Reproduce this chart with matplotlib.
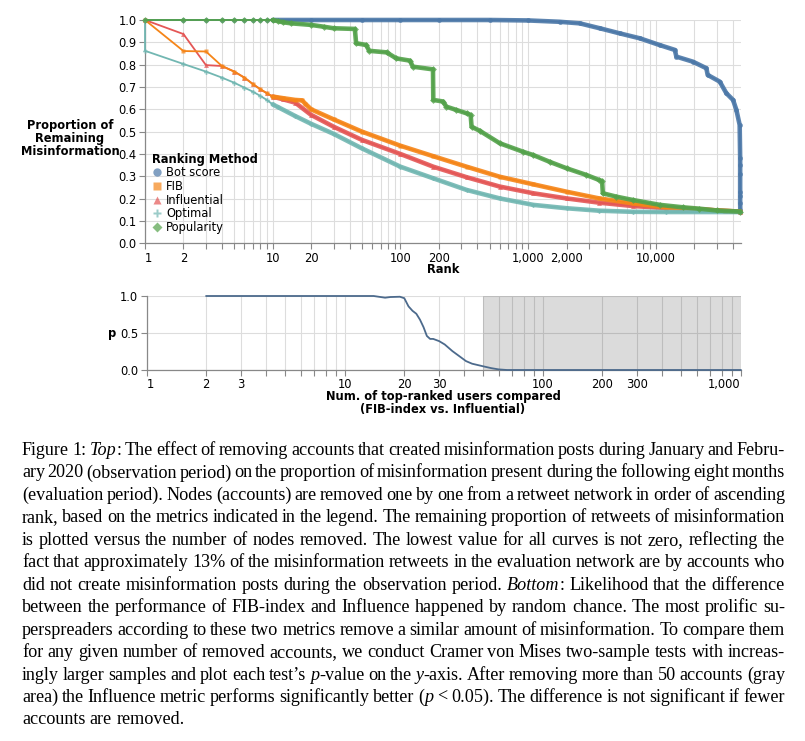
import matplotlib
matplotlib.use('Agg')
import matplotlib.pyplot as plt
from matplotlib.lines import Line2D
from matplotlib.ticker import NullLocator
import numpy as np

# ---- top chart: proportion of remaining misinformation vs rank ----
bot_rank = [1, 2, 3, 4, 5, 6, 7, 8, 9, 10, 20, 50, 100, 200, 500, 1000, 1770, 2540, 3640,
            5230, 7500, 10700, 14100, 14500, 19600, 24900, 25500, 31700, 35700, 40300,
            42800, 45400, 45800, 45800, 45800, 45800, 45800, 45800, 45900, 46000]
bot_score = [1.0, 1.0, 1.0, 1.0, 1.0, 1.0, 1.0, 1.0, 1.0, 1.0, 1.0, 1.0, 1.0, 1.0, 1.0, 0.998,
             0.992, 0.985, 0.963, 0.94, 0.918, 0.888, 0.866, 0.836, 0.813, 0.784, 0.754,
             0.724, 0.672, 0.642, 0.597, 0.53, 0.38, 0.35, 0.31, 0.23, 0.21, 0.18, 0.15, 0.141]

fib_rank = [1, 2, 3, 4, 5, 6, 7, 8, 9, 10, 12, 15, 17, 18, 20, 30, 50, 100, 181, 330, 600,
            1100, 2000, 3600, 6600, 12000, 22000, 35000, 46000]
fib = [1.0, 0.861, 0.859, 0.794, 0.769, 0.742, 0.713, 0.69, 0.672, 0.657, 0.65, 0.642, 0.64,
       0.625, 0.60, 0.555, 0.50, 0.437, 0.39, 0.343, 0.298, 0.264, 0.231, 0.201, 0.179,
       0.161, 0.152, 0.145, 0.142]

inf_rank = [1, 2, 3, 4, 5, 6, 7, 8, 9, 10, 12, 15, 20, 30, 50, 100, 181, 330, 600, 1100,
            2000, 3600, 6600, 12000, 22000, 35000, 46000]
influential = [1.0, 0.937, 0.798, 0.794, 0.769, 0.742, 0.713, 0.69, 0.672, 0.657, 0.645,
               0.63, 0.575, 0.522, 0.463, 0.40, 0.343, 0.296, 0.254, 0.224, 0.201, 0.182,
               0.167, 0.158, 0.152, 0.145, 0.142]

opt_rank = [1, 1, 2, 3, 4, 5, 6, 7, 8, 9, 10, 11, 15, 20, 30, 50, 100, 181, 330, 600, 1100,
            2000, 3600, 6600, 12000, 46000]
optimal = [1.0, 0.862, 0.803, 0.769, 0.742, 0.719, 0.697, 0.679, 0.66, 0.642, 0.622, 0.61,
           0.57, 0.535, 0.49, 0.425, 0.343, 0.291, 0.239, 0.201, 0.172, 0.157, 0.146,
           0.141, 0.14, 0.14]

pop_rank = [1, 2, 3, 4, 5, 6, 7, 8, 9, 10, 11, 12, 14, 20, 25, 30, 44, 45, 54, 57, 78, 93,
            119, 125, 180, 181, 216, 229, 275, 330, 355, 361, 418, 600, 913, 1100, 1475,
            2000, 2860, 3620, 3800, 3850, 4900, 6600, 10800, 16400, 22000, 30000, 46000]
popularity = [1.0, 1.0, 1.0, 1.0, 1.0, 1.0, 1.0, 1.0, 1.0, 1.0, 0.995, 0.99, 0.985, 0.978,
              0.97, 0.963, 0.96, 0.896, 0.888, 0.862, 0.855, 0.828, 0.818, 0.791, 0.779,
              0.642, 0.635, 0.612, 0.597, 0.582, 0.575, 0.522, 0.504, 0.448, 0.41, 0.395,
              0.365, 0.336, 0.306, 0.283, 0.278, 0.224, 0.209, 0.194, 0.172, 0.161, 0.155,
              0.147, 0.142]

# ---- bottom chart: p-value of FIB-index vs Influential ----
n_compared = [2, 5, 10, 14, 16, 17, 19, 20, 21, 22, 23, 24, 25, 26, 27, 28, 30, 32, 35, 38,
              41, 44, 50, 55, 60, 66, 100, 300, 1000]
p_value = [1.0, 1.0, 1.0, 1.0, 0.977, 0.986, 0.99, 0.97, 0.86, 0.80, 0.76, 0.68, 0.58, 0.46,
           0.42, 0.42, 0.39, 0.345, 0.255, 0.185, 0.12, 0.085, 0.05, 0.025, 0.008, 0.0, 0.0,
           0.0, 0.0]

methods = ['Bot score', 'FIB', 'Influential', 'Optimal', 'Popularity']
colors = {'Bot score': '#4c78a8', 'FIB': '#f58518', 'Influential': '#e45756',
          'Optimal': '#72b7b2', 'Popularity': '#54a24b'}
markers = {'Bot score': 'o', 'FIB': 's', 'Influential': '^', 'Optimal': 'P', 'Popularity': 'D'}
legend_ms = {'Bot score': 6, 'FIB': 5.5, 'Influential': 6, 'Optimal': 6, 'Popularity': 5}

W, H = 805, 741
fig = plt.figure(figsize=(W / 100, H / 100), dpi=100)


def style_axes(ax):
    for s in ['top', 'right']:
        ax.spines[s].set_visible(False)
    for s in ['left', 'bottom']:
        ax.spines[s].set_color('#888888')
        ax.spines[s].set_linewidth(0.9)
    ax.tick_params(axis='both', length=4, width=0.8, color='#888888', labelsize=8.3, pad=2)
    ax.grid(True, color='#dddddd', lw=0.8)
    ax.set_axisbelow(True)
    ax.xaxis.set_minor_locator(NullLocator())


def log_ticks(ax, xmax, shown):
    xt = [m * 10 ** k for k in range(6) for m in range(1, 10) if m * 10 ** k <= xmax]
    ax.set_xticks(xt)
    ax.set_xticklabels([f'{v:,}' if v in shown else '' for v in xt])
    return xt


# top chart
ax = fig.add_axes([145 / W, 1 - 243.3 / H, 596 / W, 223.3 / H])
ax.set_xscale('log')
style_axes(ax)

series = {'Bot score': (bot_rank, bot_score), 'FIB': (fib_rank, fib),
          'Influential': (inf_rank, influential), 'Optimal': (opt_rank, optimal),
          'Popularity': (pop_rank, popularity)}
for name in ['Bot score', 'Influential', 'FIB', 'Optimal', 'Popularity']:
    xs, ys = np.array(series[name][0]), np.array(series[name][1])
    c = colors[name]
    ax.plot(xs, ys, color=c, lw=1.3, clip_on=False, zorder=3)
    ax.plot(xs, ys, linestyle='none', marker=markers[name], ms=3.5, color=c, alpha=0.75,
            mec='none', clip_on=False, zorder=3)
    # dense markers in the reference merge into a thick band
    tail = xs >= 10
    ax.plot(xs[tail], ys[tail], color=c, lw=3.3, alpha=0.9, solid_capstyle='round',
            clip_on=False, zorder=3)

ax.set_xlim(1, 46500)
ax.set_ylim(0, 1)
ax.set_yticks(np.arange(0, 1.01, 0.1))
ax.set_yticklabels([f'{v:.1f}' for v in np.arange(0, 1.01, 0.1)])
log_ticks(ax, 46000, {1, 2, 10, 20, 100, 200, 1000, 2000, 10000})
ax.get_xticklabels()[0].set_horizontalalignment('left')

handles = [Line2D([], [], linestyle='none', marker=markers[m], color=colors[m], alpha=0.7,
                  mec='none', ms=legend_ms[m]) for m in methods]
leg = ax.legend(handles, methods, title='Ranking Method', loc='upper left',
                bbox_to_anchor=(0.011, 0.405), frameon=False, fontsize=8.3,
                title_fontproperties={'weight': 'bold', 'size': 8.3}, alignment='left',
                borderpad=0, borderaxespad=0, labelspacing=0.05, handlelength=0.9,
                handletextpad=0.35)

fig.text(70 / W, 1 - 138.5 / H, 'Proportion of\nRemaining\nMisinformation', ha='center',
         va='center', fontsize=8.3, fontweight='bold', linespacing=1.0)
fig.text(443 / W, 1 - 269.5 / H, 'Rank', ha='center', va='center', fontsize=8.3,
         fontweight='bold')

# bottom chart
ax2 = fig.add_axes([146.7 / W, 1 - 370 / H, 594 / W, 74 / H])
ax2.set_xscale('log')
style_axes(ax2)
ax2.axvspan(50, 1000, color='black', alpha=0.14, lw=0, zorder=1)
ax2.plot(n_compared, p_value, color='#4c6a8c', lw=1.3, zorder=3, clip_on=False)
ax2.set_xlim(1, 1000)
ax2.set_ylim(0, 1)
ax2.set_yticks([0, 0.5, 1.0])
ax2.set_yticklabels(['0.0', '0.5', '1.0'])
log_ticks(ax2, 1000, {1, 2, 3, 10, 20, 30, 100, 200, 300, 1000})
lbls = ax2.get_xticklabels()
lbls[0].set_horizontalalignment('left')
lbls[-1].set_horizontalalignment('right')

fig.text(112 / W, 1 - 334 / H, 'p', ha='center', va='center', fontsize=8.3, fontweight='bold')
fig.text(443 / W, 1 - 403 / H, 'Num. of top-ranked users compared\n(FIB-index vs. Influential)',
         ha='center', va='center', fontsize=8.3, fontweight='bold', linespacing=1.0)

# caption, justified word by word
caption = [
    "Figure 1: _Top_: The effect of removing accounts that created misinformation posts during January and Febru-",
    "ary 2020 (observation period) on the proportion of misinformation present during the following eight months",
    "(evaluation period). Nodes (accounts) are removed one by one from a retweet network in order of ascending",
    "rank, based on the metrics indicated in the legend. The remaining proportion of retweets of misinformation",
    "is plotted versus the number of nodes removed. The lowest value for all curves is not zero, reflecting the",
    "fact that approximately 13% of the misinformation retweets in the evaluation network are by accounts who",
    "did not create misinformation posts during the observation period. _Bottom_: Likelihood that the difference",
    "between the performance of FIB-index and Influence happened by random chance. The most prolific su-",
    "perspreaders according to these two metrics remove a similar amount of misinformation. To compare them",
    "for any given number of removed accounts, we conduct Cramer von Mises two-sample tests with increas-",
    "ingly larger samples and plot each test\u2019s _p_-value on the _y_-axis. After removing more than 50 accounts (gray",
    "area) the Influence metric performs significantly better (_p_ < 0.05). The difference is not significant if fewer",
    "accounts are removed.",
]

renderer = fig.canvas.get_renderer()
x_left, x_right = 22, 785
base = 12.0


def extent(s, italic, size):
    t = fig.text(0, 0, s, fontsize=size, family='Liberation Serif',
                 style='italic' if italic else 'normal')
    w = t.get_window_extent(renderer).width
    t.remove()
    return w


def advance(s, italic, size):
    # advance width: pad with a reference glyph so overhangs do not count
    return extent(s + 'n', italic, size) - extent('n', italic, size)


def pieces(word):
    parts = word.split('_')
    return [(p, i % 2 == 1) for i, p in enumerate(parts) if p]


space = extent('n n', False, base) - extent('nn', False, base)
needed = []
for line in caption:
    words = line.split(' ')
    ww = sum(advance(p, it, base) for w in words for p, it in pieces(w))
    needed.append(ww + 0.6 * space * (len(words) - 1))
size = base * (x_right - x_left) / max(needed)

for i, line in enumerate(caption):
    y = 1 - (455 + 22.45 * i) / H
    words = line.split(' ')
    widths = [[advance(p, it, size) for p, it in pieces(w)] for w in words]
    total = sum(sum(w) for w in widths)
    if i < len(caption) - 1:
        gap = (x_right - x_left - total) / (len(words) - 1)
    else:
        gap = space * size / base
    x = x_left
    for w, ws in zip(words, widths):
        for (p, it), pw in zip(pieces(w), ws):
            fig.text(x / W, y, p, fontsize=size, family='Liberation Serif',
                     style='italic' if it else 'normal', va='baseline', ha='left')
            x += pw
        x += gap

fig.savefig('out.png', dpi=100, facecolor='white')
